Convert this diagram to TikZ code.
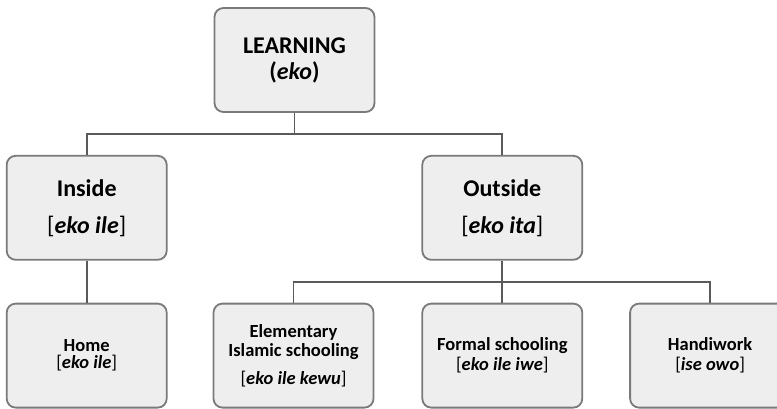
\documentclass[tikz,border=0pt]{standalone}
\usepackage{fontspec}
\setmainfont{Carlito}
\usetikzlibrary{positioning}
\definecolor{boxgray}{RGB}{238,238,238}
\definecolor{edgegray}{RGB}{122,122,122}
\definecolor{linegray}{RGB}{90,90,90}
\newcommand{\yterm}[1]{{\mdseries[}\textit{#1}{\mdseries]}}
\begin{document}
\begin{tikzpicture}[x=1pt,y=1pt, node distance=42pt and 46pt, every node/.style={align=center,text=black}, box/.style={draw=edgegray,line width=1.8pt,rounded corners=9pt,fill=boxgray,minimum width=160pt,minimum height=104pt,font=\fontsize{24}{28}\selectfont\bfseries}, leaf/.style={box,font=\fontsize{18.5}{22}\selectfont\bfseries}, conn/.style={linegray,line width=1.8pt}]
\useasboundingbox (0,0) rectangle (777,-408);
\node[box] (learn) at (294.5,-60) {LEARNING\\[-2pt]({\itshape eko})};
\node[box,below left=of learn] (inside) {Inside\\[9pt]\yterm{eko ile}};
\node[box,below right=of learn] (outside) {Outside\\[9pt]\yterm{eko ita}};
\node[leaf,below=of inside] (home) {Home\\[-5pt]\yterm{eko ile}};
\node[leaf,below=of outside] (formal) {Formal schooling\\[-2pt]\yterm{eko ile iwe}};
\node[leaf,left=47pt of formal] (islamic) {Elementary\\[-3pt]Islamic schooling\\[6pt]\yterm{eko ile kewu}};
\node[leaf,right=of formal] (handi) {Handiwork\\[-2pt]\yterm{ise owo}};
\draw[conn] (learn.south) -- ++(0,-21) -| (inside.north);\draw[conn] (learn.south) -- ++(0,-21) -| (outside.north);
\draw[conn] (inside.south) -- (home.north);
\draw[conn] (outside.south) -- (formal.north);\draw[conn] (outside.south) -- ++(0,-21) -| (islamic.north);\draw[conn] (outside.south) -- ++(0,-21) -| (handi.north);
\end{tikzpicture}
\end{document}
